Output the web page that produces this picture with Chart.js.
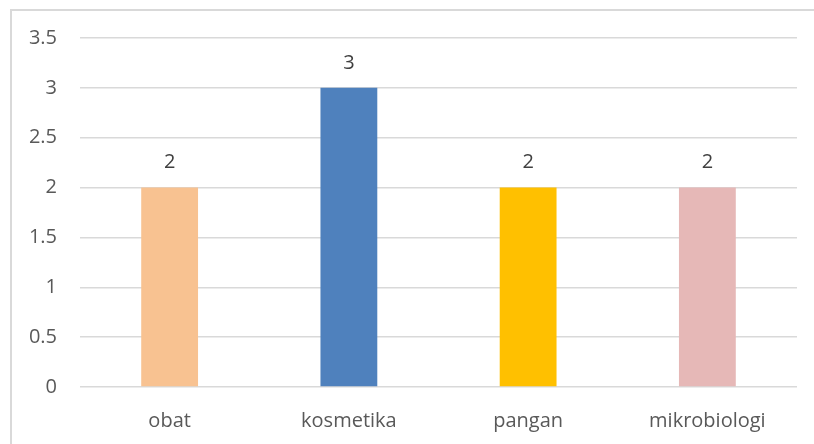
<!DOCTYPE html>
<html>
<head>
<meta charset="utf-8">
<script src="https://cdn.jsdelivr.net/npm/chart.js@4"></script>
<style>
    html, body { margin: 0; padding: 0; background: #fff; }
    #wrap { position: relative; width: 814px; height: 444px; overflow: hidden; }
    #frame { position: absolute; left: 10px; top: 9px; width: 820px; height: 460px;
             border-left: 2px solid #d9d9d9; border-top: 2px solid #d9d9d9; }
    canvas { position: absolute; left: 0; top: 0; }
</style>
</head>
<body>
<div id="wrap">
    <div id="frame"></div>
    <canvas id="grafico" width="814" height="444"></canvas>
</div>
<script>
    // Datos del gráfico
    const kategori = ['obat', 'kosmetika', 'pangan', 'mikrobiologi'];
    const nilai = [2, 3, 2, 2];
    const warna = ['#F8C291', '#4F81BD', '#FFC000', '#E6B8B7'];
    const tickY = [0, 0.5, 1, 1.5, 2, 2.5, 3, 3.5];

    const fuente = "'Open Sans', 'Noto Sans', sans-serif";

    // etiquetas encima de cada barra
    const etiquetas = {
        id: 'etiquetas',
        afterDatasetsDraw(chart) {
            const ctx = chart.ctx;
            const meta = chart.getDatasetMeta(0);
            ctx.save();
            ctx.font = '20px ' + fuente;
            ctx.fillStyle = '#404040';
            ctx.textAlign = 'center';
            ctx.textBaseline = 'middle';
            meta.data.forEach(function(bar, i) {
                ctx.fillText(String(nilai[i]), bar.x, bar.y - 25);
            });
            ctx.restore();
        }
    };

    const ctx = document.getElementById('grafico').getContext('2d');
    new Chart(ctx, {
        type: 'bar',
        data: {
            labels: kategori,
            datasets: [{
                data: nilai,
                backgroundColor: warna,
                borderWidth: 0,
                categoryPercentage: 1,
                barPercentage: 0.317
            }]
        },
        options: {
            responsive: false,
            animation: false,
            layout: { padding: { top: 38, right: 17, bottom: 0, left: 0 } },
            plugins: { legend: { display: false }, tooltip: { enabled: false } },
            scales: {
                x: {
                    grid: { display: false },
                    border: { display: false },
                    ticks: { color: '#595959', font: { family: fuente, size: 20 }, padding: 14 },
                    afterFit: function(scale) { scale.height = 57; }
                },
                y: {
                    min: 0,
                    max: 3.5,
                    afterBuildTicks: function(scale) { scale.ticks = tickY.map(v => ({ value: v })); },
                    grid: { color: '#d9d9d9', lineWidth: 1.5, drawTicks: false },
                    border: { display: false },
                    ticks: {
                        color: '#595959',
                        font: { family: fuente, size: 20 },
                        padding: 23,
                        callback: function(v) { return String(v); }
                    },
                    afterFit: function(scale) { scale.width = 80; }
                }
            }
        },
        plugins: [etiquetas]
    });
</script>
</body>
</html>
